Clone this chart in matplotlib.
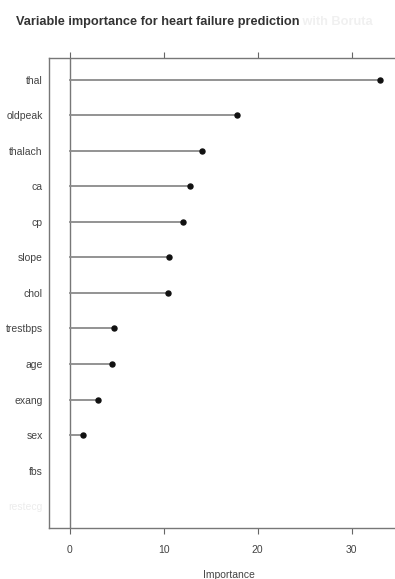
import matplotlib
matplotlib.use("Agg")
import matplotlib.pyplot as plt
import numpy as np

variables = ["thal", "oldpeak", "thalach", "ca", "cp", "slope", "chol",
             "trestbps", "age", "exang", "sex", "fbs", "restecg"]
importance = [33.0, 17.8, 14.1, 12.8, 12.1, 10.6, 10.5, 4.7, 4.5, 3.0, 1.4, np.nan, np.nan]
xticks = [0, 10, 20, 30]

plt.rcParams['font.family'] = ['Liberation Sans Narrow', 'Liberation Sans', 'DejaVu Sans']

fig = plt.figure(figsize=(3.95, 5.79), dpi=100)
ax = fig.add_axes([0.124, 0.088, 0.909, 0.812])

ypos = np.arange(1, len(variables) + 1)
for y, v in zip(ypos, importance):
    if not np.isnan(v):
        ax.plot([0, v], [y, y], color="#8a8a8a", lw=1.3, zorder=2)
        ax.plot([v], [y], "o", color="#111111", ms=3.6, zorder=3)

ax.axvline(0, color="#777777", lw=1.0, zorder=1)
ax.set_xlim(-2.2, 36)
ax.set_ylim(13.62, 0.38)
ax.set_yticks(ypos)
ax.set_yticklabels(variables, fontsize=7.5, color="#444444")
ax.get_yticklabels()[-1].set_color("#ececec")
ax.tick_params(axis="y", length=0, pad=4.5)
ax.set_xticks(xticks)
ax.set_xticklabels([str(t) for t in xticks], fontsize=7.5, color="#444444")
ax.tick_params(axis="x", length=4, width=0.8, color="#666666", pad=8, top=True, direction="out")
for s in ax.spines.values():
    s.set_color("#777777")
    s.set_linewidth(1.0)
ax.set_xlabel("Importance", fontsize=7.5, color="#444444", labelpad=11)

t = fig.text(0.04, 0.962, "Variable importance for heart failure prediction", fontsize=9.2,
             fontweight="bold", color="#333333", ha="left", va="center")
ax.annotate(" with Boruta", xy=(1, 0.5), xycoords=t, fontsize=9.2,
            fontweight="bold", color="#f0f0f0", ha="left", va="center")

fig.savefig("out.png", dpi=100)
